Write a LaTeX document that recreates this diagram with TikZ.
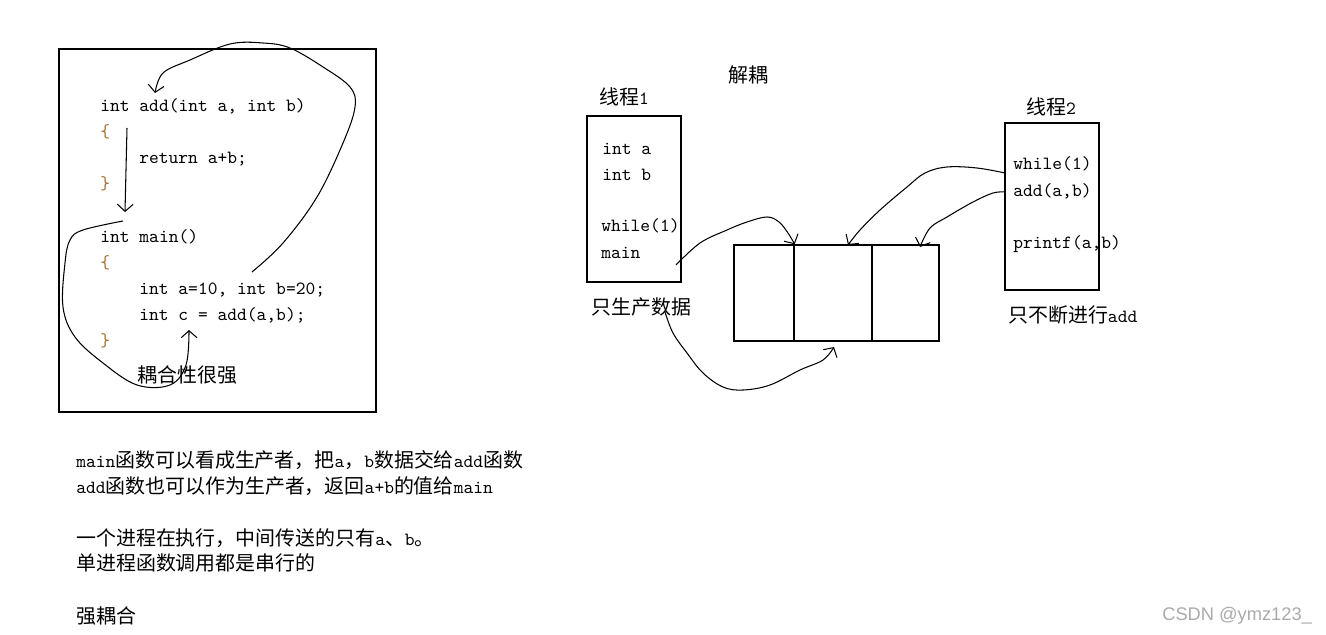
\documentclass[tikz,border=0pt]{standalone}
\usepackage{fontspec}
\newfontfamily\cjk[Scale=1.07]{Noto Sans CJK SC}
\newfontfamily\wmfont{Liberation Sans}
\usetikzlibrary{arrows.meta}
\usetikzlibrary{positioning}
\definecolor{bracecol}{RGB}{165,110,45}
\definecolor{wmgray}{RGB}{170,170,170}
\tikzset{
	code/.style={anchor=base west,inner sep=0pt,font=\fontsize{10.6}{12}\selectfont\ttfamily},
	brace/.style={code,text=bracecol},
	frame/.style={draw,line width=0.8pt,inner sep=0pt},
	hand/.style={line width=0.6pt,-{Straight Barb[length=4pt,width=9pt]}},
}

\begin{document}
\begin{tikzpicture}[x=0.02cm,y=-0.02cm]
		\fill[white] (0,0) rectangle (1326,635);
		\useasboundingbox (0,0) rectangle (1326,635);
		% left: one process
		\node[frame,minimum width=6.34cm,minimum height=7.26cm] (proc) at (217.5,230.5){};
		\node[code] (addhead) at (100,112){int add(int a, int b)};
		\node[brace] (ob1) at (100,138){\{};
		\node[code] (ret) at (139,164){return a+b;};
		\node[brace] (cb1) at (100,190){\}};
		\node[code] (mainhead) at (100,242){int main()};
		\node[brace] (ob2) at (100,268){\{};
		\node[code] (decl) at (139,294){int a=10, int b=20;};
		\node[code] (call) at (139,320){int c = add(a,b);};
		\node[brace] (cb2) at (100,346){\}};
		\node[code] (strong) at (137,382){\cjk 耦合性很强};
		\coordinate (s1) at (252,272);
		\coordinate (e1) at (155,93);
		\draw[hand] plot[smooth,tension=0.6] coordinates {(s1) (283,243) (317,197) (343,143) (355,107) (350,87) (323,67) (290,48) (263,43) (230,44) (190,60) (163,73) (e1)};
		\coordinate (s2) at (127,128);
		\coordinate (e2) at (125,212);
		\draw[hand] (s2)--(e2);
		\coordinate (s3) at (123,221);
		\coordinate (e3) at (189,330);
		\draw[hand] plot[smooth,tension=0.6] coordinates {(s3) (83,230) (70,240) (65,263) (63,307) (75,337) (103,363) (137,385) (170,385) (186,365) (e3)};
		% right: two threads and a buffer
		\node[code] (decouple) at (728,83){\cjk 解耦};
		\node[code] (t1name) at (599,105){{\cjk 线程}1};
		\node[frame,minimum width=1.88cm,minimum height=3.32cm] (t1) at (634,199){};
		\node[code] (inta) at (602,154){int a};
		\node[code] (intb) at (602,180){int b};
		\node[code] (loop1) at (601,232){while(1)};
		\node[code] (main1) at (601,258){main};
		\node[code] (produce) at (591,314){\cjk 只生产数据};
		\node[frame,minimum width=1.2cm,minimum height=1.92cm] (cell1) at (764,293){};
		\node[frame,minimum width=1.56cm,minimum height=1.92cm] (cell2) at (833,293){};
		\node[frame,minimum width=1.34cm,minimum height=1.92cm] (cell3) at (905.5,293){};
		\node[code] (t2name) at (1026,115){{\cjk 线程}2};
		\node[frame,minimum width=1.88cm,minimum height=3.34cm] (t2) at (1052,206.5){};
		\node[code] (loop2) at (1013,170){while(1)};
		\node[code] (add2) at (1013,196){add(a,b)};
		\node[code] (print2) at (1013,248){printf(a,b)};
		\node[code] (consume) at (1008,322){{\cjk 只不断进行}add};
		\coordinate (sa) at (676,265);
		\draw[hand] plot[smooth,tension=0.6] coordinates {(sa) (700,243) (727,230) (747,222) (767,217) (779,222) (788,233) (cell1.north east)};
		\coordinate (sb) at (665,312);
		\coordinate (eb) at (834,347);
		\draw[hand] plot[smooth,tension=0.6] coordinates {(sb) (673,333) (687,353) (703,373) (723,387) (743,390) (770,385) (800,370) (823,360) (eb)};
		\coordinate (sc) at (1005,173);
		\coordinate (ec) at (848,245);
		\draw[hand] plot[smooth,tension=0.6] coordinates {(sc) (977,168) (947,167) (925,173) (907,187) (880,210) (860,230) (ec)};
		\coordinate (sd) at (1005,192);
		\coordinate (ed) at (920,247);
		\draw[hand] plot[smooth,tension=0.6] coordinates {(sd) (993,193) (973,202) (947,217) (930,228) (ed)};
		% notes below
		\node[code] (n1) at (76,467){main{\cjk 函数可以看成生产者，把}a{\cjk ，}b{\cjk 数据交给}add{\cjk 函数}};
		\node[code] (n2) at (76,493){add{\cjk 函数也可以作为生产者，返回}a+b{\cjk 的值给}main};
		\node[code] (n3) at (76,545){{\cjk 一个进程在执行，中间传送的只有}a{\cjk 、}b{\cjk 。}};
		\node[code] (n4) at (76,570){\cjk 单进程函数调用都是串行的};
		\node[code] (n5) at (76,623){\cjk 强耦合};
		\node[anchor=base west,inner sep=0pt,font=\fontsize{10.4}{12}\selectfont\wmfont,text=wmgray] (wm) at (1162,620){CSDN @ymz123\_};
	\end{tikzpicture}
\end{document}
